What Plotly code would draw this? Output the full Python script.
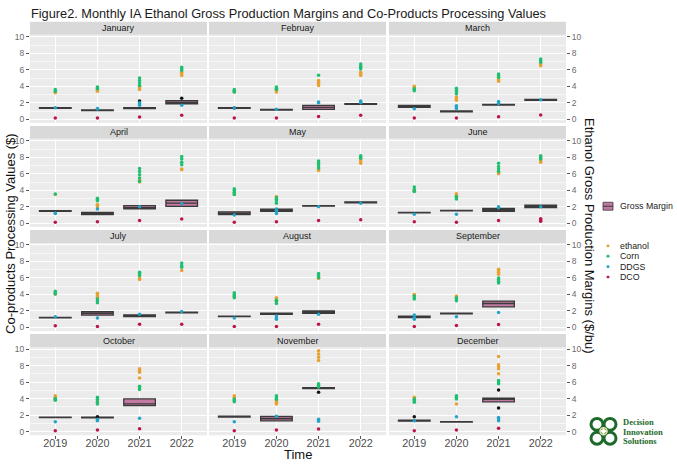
import plotly.graph_objects as go

# ---------------- data ----------------
months = ["January", "Februay", "March", "April", "May", "June",
          "July", "August", "September", "October", "November", "December"]
years = ["2019", "2020", "2021", "2022"]

# per month: values per year [2019, 2020, 2021, 2022]
ethanol = [
    [[3.2, 3.3], [3.4, 3.5, 3.6], [3.6, 3.8, 4.0], [5.3, 5.5, 5.7]],
    [[3.3, 3.4], [3.3, 3.5, 3.6], [4.1, 4.3, 4.5, 4.7], [5.3, 5.5, 5.7]],
    [[3.8, 3.9, 4.0], [2.3, 2.5, 2.7], [4.6, 4.8, 5.0], [6.5, 6.7]],
    [[3.5], [2.0, 2.2, 2.3], [5.0, 5.2, 5.3], [6.5, 6.6]],
    [[3.5, 3.7], [2.9, 3.1, 3.25], [6.4, 6.5, 6.7], [7.3, 7.5, 7.7]],
    [[3.9, 4.0], [3.3, 3.45, 3.6], [6.0, 6.15, 6.3], [7.4, 7.55, 7.7]],
    [[4.05, 4.1], [3.6, 3.8, 4.0, 4.15], [5.8, 5.9, 6.0], [6.9]],
    [[3.7, 3.8], [3.1, 3.3, 3.5, 3.6], [5.95, 6.0], []],
    [[3.9, 4.0], [3.7, 3.8], [6.45, 6.7, 6.9, 7.05], []],
    [[4.0, 4.2, 4.35], [3.5, 3.7], [6.5, 7.2, 7.4, 7.6], []],
    [[4.0, 4.2, 4.35], [3.35, 3.55, 3.75], [8.6, 9.0, 9.4, 9.8], []],
    [[3.9, 4.15], [3.35], [7.0, 7.6, 7.9, 8.1, 9.1], []],
]
corn = [
    [[3.4, 3.6], [3.7, 3.8, 3.9], [4.1, 4.4, 4.7, 5.0], [5.9, 6.1, 6.3]],
    [[3.3, 3.45, 3.6], [3.6, 3.75, 3.9], [5.35], [6.1, 6.3, 6.5, 6.7]],
    [[3.45, 3.6, 3.7], [3.1, 3.35, 3.55, 3.75], [5.1, 5.3, 5.5], [6.9, 7.1, 7.3]],
    [[3.55], [2.75, 2.9, 3.05], [5.1, 5.5, 5.9, 6.3, 6.65], [7.1, 7.4, 7.8, 8.1]],
    [[3.5, 3.75, 4.0, 4.2], [2.45, 2.7, 2.9, 3.1], [6.7, 7.0, 7.3, 7.55], [7.9, 8.05, 8.2]],
    [[3.85, 4.1, 4.4], [2.95, 3.1, 3.25], [6.3, 6.6, 6.9, 7.3], [7.8, 8.0, 8.2]],
    [[4.05, 4.2, 4.4], [3.0, 3.2, 3.45], [6.3, 6.5, 6.7], [7.3, 7.5, 7.8]],
    [[3.6, 3.8, 4.0, 4.2], [2.9, 3.1, 3.3], [6.05, 6.3, 6.55], []],
    [[3.45, 3.6, 3.8], [3.25, 3.45, 3.6], [5.4, 5.6, 5.8, 6.0], []],
    [[3.8, 3.9, 4.0], [3.35, 3.6, 3.9, 4.15], [5.1, 5.3, 5.5], []],
    [[3.6, 3.75, 3.95], [3.9, 4.1, 4.35], [5.4, 5.6, 5.8], []],
    [[3.55, 3.75, 3.95], [3.95, 4.15, 4.35], [5.8, 6.0, 6.2], []],
]
ddgs = [
    [[1.4], [1.25, 1.3], [1.7, 1.85, 2.0], [1.7]],
    [[1.36], [1.2], [2.0, 2.1], [2.0, 2.1, 2.2]],
    [[1.28], [1.3, 1.5, 1.65], [1.9, 2.0, 2.15], [2.36]],
    [[1.2, 1.25], [1.75], [2.0], [2.4]],
    [[1.0], [1.2, 1.4, 1.6, 1.75], [2.0], [2.43]],
    [[1.1], [1.1], [1.9, 2.0], [2.0]],
    [[1.29], [1.13], [1.6], [1.93]],
    [[1.13], [1.0, 1.15, 1.4], [1.6], []],
    [[1.0, 1.2, 1.5], [1.29], [1.81], []],
    [[1.18], [1.3, 1.5], [1.6], []],
    [[1.18], [1.84], [1.25, 1.5], []],
    [[1.3], [1.8], [1.3, 1.55, 1.7], []],
]
dco = [
    [[0.16], [0.16], [0.28], [0.48]],
    [[0.16], [0.16], [0.32], [0.48]],
    [[0.16], [0.16], [0.3], [0.5]],
    [[0.12], [0.2], [0.33], [0.53]],
    [[0.12], [0.2], [0.33], [0.45]],
    [[0.2], [0.12], [0.33], [0.25, 0.4, 0.55]],
    [[0.2], [0.12], [0.4], [0.4]],
    [[0.12], [0.12], [0.4], []],
    [[0.12], [0.24], [0.36], []],
    [[0.1], [0.18], [0.33], []],
    [[0.1], [0.2], [0.3], []],
    [[0.1], [0.18], [0.4], []],
]

# Gross margin box statistics per month, per year (None = no data)
gm_q1 = [
    [1.33, 1.05, 1.30, 1.88], [1.32, 1.12, 1.20, 1.81], [1.45, 0.90, 1.72, 2.30],
    [1.46, 1.05, 1.76, 2.05], [1.05, 1.45, 2.08, 2.50], [1.27, 1.50, 1.45, 1.92],
    [1.17, 1.50, 1.30, 1.78], [1.30, 1.60, 1.72, None], [1.20, 1.66, 2.50, None],
    [1.68, 1.67, 3.15, None], [1.75, 1.30, 5.20, None], [1.25, 1.15, 3.60, None],
]
gm_med = [
    [1.36, 1.08, 1.36, 2.05], [1.36, 1.16, 1.44, 1.84], [1.60, 0.96, 1.76, 2.36],
    [1.50, 1.18, 1.90, 2.45], [1.22, 1.55, 2.12, 2.55], [1.30, 1.54, 1.62, 2.06],
    [1.20, 1.70, 1.40, 1.81], [1.33, 1.66, 1.85, None], [1.29, 1.69, 2.90, None],
    [1.71, 1.71, 3.35, None], [1.80, 1.55, 5.25, None], [1.30, 1.18, 3.90, None],
]
gm_q3 = [
    [1.40, 1.12, 1.42, 2.25], [1.40, 1.19, 1.68, 1.88], [1.68, 1.00, 1.80, 2.42],
    [1.54, 1.32, 2.14, 2.80], [1.40, 1.72, 2.16, 2.60], [1.33, 1.58, 1.80, 2.20],
    [1.23, 1.90, 1.52, 1.84], [1.36, 1.72, 2.00, None], [1.38, 1.72, 3.20, None],
    [1.74, 1.75, 3.95, None], [1.86, 1.82, 5.32, None], [1.37, 1.21, 4.05, None],
]
# Gross margin outliers
out_month = ["January", "January", "Februay", "October", "November", "December", "December", "December"]
out_year = ["2021", "2022", "2019", "2020", "2021", "2019", "2021", "2021"]
out_value = [2.2, 2.56, 1.36, 1.8, 4.75, 1.8, 5.05, 2.85]

series_names = ["ethanol", "Corn", "DDGS", "DCO"]
series_data = [ethanol, corn, ddgs, dco]
series_colors = ["#E8A030", "#1FBF72", "#22A3C8", "#BC1446"]
box_fill = "#C27AA3"
box_line = "#3A3A3A"

# ---------------- layout geometry (page px) ----------------
W, H = 677, 464
col_x = [(30, 207), (209, 386), (389, 566)]
row_top = [19, 124, 229, 334]
strip_h = 13
panel_h = 89
MS = 3.5


def px(x):
    return x / W


def py(y):
    return 1 - y / H


fig = go.Figure()
layout = {}
shapes = []
annotations = []

for i, m in enumerate(months):
    r, c = divmod(i, 3)
    sfx = "" if i == 0 else str(i + 1)
    xa, ya = "x" + sfx, "y" + sfx
    x0, x1 = col_x[c]
    ptop = row_top[r] + strip_h
    pbot = ptop + panel_h
    bottom = (r == 3)
    layout["xaxis" + sfx] = dict(
        domain=[px(x0), px(x1)], anchor=ya, type="category",
        categoryorder="array", categoryarray=years, range=[-0.6, 3.6],
        showgrid=True, gridcolor="white", gridwidth=1, zeroline=False,
        showticklabels=bottom, ticks="outside" if bottom else "",
        ticklen=3, tickcolor="#555555", ticklabelstandoff=-5,
        tickfont=dict(size=10.8, color="#4d4d4d"), fixedrange=True,
    )
    side = "right" if c == 2 else "left"
    show_y = c != 1
    layout["yaxis" + sfx] = dict(
        domain=[py(pbot), py(ptop)], anchor=xa, side=side,
        range=[-0.45, 10.25], tickvals=[0, 2, 4, 6, 8, 10],
        showgrid=True, gridcolor="white", gridwidth=1, zeroline=False,
        minor=dict(tickvals=[1, 3, 5, 7, 9], showgrid=True,
                   gridcolor="rgba(255,255,255,0.6)", gridwidth=0.5),
        showticklabels=show_y, ticks="outside" if show_y else "",
        ticklen=3, tickcolor="#555555",
        tickfont=dict(size=8.5, color="#6b6b6b"), fixedrange=True,
    )
    # strip
    shapes.append(dict(type="rect", xref="paper", yref="paper",
                       x0=px(x0), x1=px(x1), y0=py(ptop), y1=py(row_top[r]),
                       fillcolor="#D9D9D9", line=dict(width=0), layer="below"))
    annotations.append(dict(text=m, x=px((x0 + x1) / 2), y=py(row_top[r] + strip_h / 2),
                            xref="paper", yref="paper", showarrow=False,
                            font=dict(size=9, color="#1a1a1a"),
                            xanchor="center", yanchor="middle"))

    # gross margin boxes
    bx, q1, md, q3 = [], [], [], []
    for j, yr in enumerate(years):
        if gm_med[i][j] is None:
            continue
        bx.append(yr)
        q1.append(gm_q1[i][j])
        md.append(gm_med[i][j])
        q3.append(gm_q3[i][j])
    fig.add_trace(go.Box(
        x=bx, q1=q1, median=md, q3=q3, lowerfence=q1, upperfence=q3,
        xaxis=xa, yaxis=ya, width=0.75, fillcolor=box_fill,
        line=dict(color=box_line, width=1.3), boxpoints=False,
        showlegend=False, hoverinfo="skip", name="Gross Margin",
    ))
    # outliers
    ox = [out_year[k] for k in range(len(out_value)) if out_month[k] == m]
    oy = [out_value[k] for k in range(len(out_value)) if out_month[k] == m]
    if ox:
        fig.add_trace(go.Scatter(x=ox, y=oy, xaxis=xa, yaxis=ya, mode="markers",
                                 marker=dict(color="#111111", size=MS),
                                 showlegend=False, hoverinfo="skip"))
    # points
    for sname, sdata, scol in zip(series_names, series_data, series_colors):
        xs, ys = [], []
        for j, yr in enumerate(years):
            for v in sdata[i][j]:
                xs.append(yr)
                ys.append(v)
        fig.add_trace(go.Scatter(x=xs, y=ys, xaxis=xa, yaxis=ya, mode="markers",
                                 marker=dict(color=scol, size=MS),
                                 showlegend=False, hoverinfo="skip", name=sname))

# ---------------- titles ----------------
annotations.append(dict(
    text="Figure2. Monthly IA Ethanol Gross Production Margins and Co-Products Processing Values",
    x=px(29), y=py(10.5), xref="paper", yref="paper", showarrow=False,
    xanchor="left", yanchor="middle", font=dict(size=12.75, color="#1a1a1a")))
annotations.append(dict(
    text="Co-products Processing Values ($)", x=px(11), y=py(233),
    xref="paper", yref="paper", showarrow=False, textangle=-90,
    xanchor="center", yanchor="middle", font=dict(size=13, color="#111111")))
annotations.append(dict(
    text="Ethanol Gross Production Margins ($/bu)", x=px(589), y=py(235),
    xref="paper", yref="paper", showarrow=False, textangle=90,
    xanchor="center", yanchor="middle", font=dict(size=13, color="#111111")))
annotations.append(dict(
    text="Time", x=px(298), y=py(455), xref="paper", yref="paper",
    showarrow=False, xanchor="center", yanchor="middle",
    font=dict(size=13, color="#111111")))

# ---------------- legend (drawn) ----------------
shapes.append(dict(type="rect", xref="paper", yref="paper",
                   x0=px(603), x1=px(613), y0=py(209), y1=py(201),
                   fillcolor=box_fill, line=dict(color=box_line, width=0.8)))
shapes.append(dict(type="line", xref="paper", yref="paper",
                   x0=px(603), x1=px(613), y0=py(205), y1=py(205),
                   line=dict(color=box_line, width=1)))
annotations.append(dict(text="Gross Margin", x=px(618), y=py(205), xref="paper",
                        yref="paper", showarrow=False, xanchor="left",
                        yanchor="middle", font=dict(size=8.8, color="#1a1a1a")))
leg_y = [245, 255.5, 266, 276.5]
for sname, scol, ly in zip(series_names, series_colors, leg_y):
    shapes.append(dict(type="circle", xref="paper", yref="paper",
                       x0=px(606.5), x1=px(609.5), y0=py(ly + 1.5), y1=py(ly - 1.5),
                       fillcolor=scol, line=dict(width=0)))
    annotations.append(dict(text=sname, x=px(618), y=py(ly), xref="paper",
                            yref="paper", showarrow=False, xanchor="left",
                            yanchor="middle", font=dict(size=8.8, color="#1a1a1a")))

# ---------------- logo ----------------
logo_green = "#1E6A2C"
for cx, cy in [(597, 425), (610, 425), (597, 439), (610, 439)]:
    shapes.append(dict(type="circle", xref="paper", yref="paper",
                       x0=px(cx - 6), x1=px(cx + 6), y0=py(cy + 6), y1=py(cy - 6),
                       line=dict(color=logo_green, width=3), fillcolor="rgba(0,0,0,0)"))
shapes.append(dict(type="circle", xref="paper", yref="paper",
                   x0=px(600), x1=px(607), y0=py(435.5), y1=py(428.5),
                   line=dict(color="#E8E6A8", width=1.5), fillcolor="rgba(0,0,0,0)"))
for t, ly in zip(["Decision", "Innovation", "Solutions"], [423, 432.5, 442]):
    annotations.append(dict(text="<b>" + t + "</b>", x=px(621), y=py(ly), xref="paper",
                            yref="paper", showarrow=False, xanchor="left",
                            yanchor="middle",
                            font=dict(size=8.5, color=logo_green,
                                      family="Liberation Serif, Times New Roman, serif")))

fig.update_layout(
    width=W, height=H, margin=dict(l=0, r=0, t=0, b=0),
    paper_bgcolor="white", plot_bgcolor="#EBEBEB",
    font=dict(family="Liberation Sans, Arial, sans-serif"),
    showlegend=False, shapes=shapes, annotations=annotations,
    **layout,
)

fig.write_html("out.html",
               config={"displayModeBar": False},
               post_script="document.body.style.margin='0';document.body.style.overflow='hidden';")
